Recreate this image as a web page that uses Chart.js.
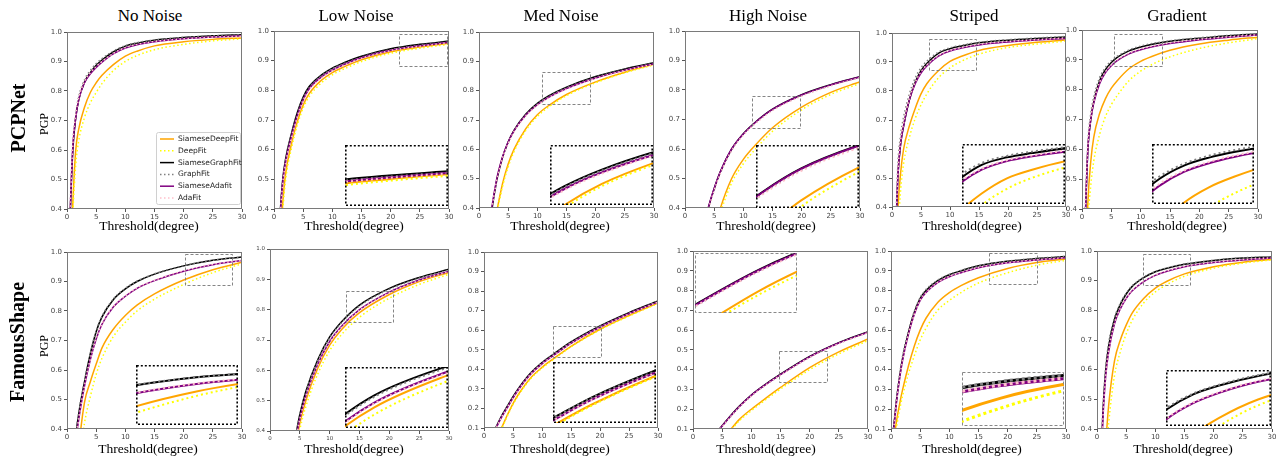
<!DOCTYPE html>
<html><head><meta charset="utf-8">
<script src="https://cdn.jsdelivr.net/npm/chart.js@4.4.0/dist/chart.umd.min.js"></script>
<style>
body{margin:0;width:1283px;height:461px;background:#fff;position:relative;overflow:hidden;font-family:'Liberation Serif','Times New Roman',serif}
canvas{position:absolute}
.t{position:absolute;white-space:nowrap;color:#000;transform:translate(-50%,-50%);line-height:1}
.r{position:absolute;white-space:nowrap;color:#000;transform:translate(-50%,-50%) rotate(-90deg);line-height:1}
</style></head><body>
<script>
// ---------------- DATA ----------------
const thresholds = [0, 0.5, 1, 1.5, 2, 3, 4, 5, 6, 8, 10, 12, 15, 20, 25, 30];
const methods = ['SiameseDeepFit', 'DeepFit', 'SiameseGraphFit', 'GraphFit', 'SiameseAdafit', 'AdaFit'];
const colTitles = ['No Noise', 'Low Noise', 'Med Noise', 'High Noise', 'Striped', 'Gradient'];
const rowTitles = ['PCPNet', 'FamousShape'];
const xTickValues = [0, 5, 10, 15, 20, 25, 30];
const yTicksFrom04 = [0.4, 0.5, 0.6, 0.7, 0.8, 0.9, 1.0];
const yTicksFrom01 = [0.1, 0.2, 0.3, 0.4, 0.5, 0.6, 0.7, 0.8, 0.9, 1.0];
const xAxisTitle = 'Threshold(degree)';
const yAxisTitle = 'PGP';

// PCPNet row
const pcp_noNoise = {
  SiameseDeepFit:  [0, 0.15, 0.42, 0.60, 0.67, 0.745, 0.795, 0.828, 0.853, 0.89, 0.918, 0.935, 0.953, 0.967, 0.975, 0.98],
  DeepFit:         [0, 0.10, 0.38, 0.55, 0.63, 0.71, 0.76, 0.795, 0.825, 0.87, 0.90, 0.92, 0.94, 0.958, 0.97, 0.977],
  SiameseGraphFit: [0, 0.35, 0.60, 0.71, 0.77, 0.83, 0.862, 0.887, 0.905, 0.933, 0.952, 0.962, 0.972, 0.981, 0.987, 0.991],
  GraphFit:        [0, 0.37, 0.62, 0.72, 0.78, 0.838, 0.87, 0.893, 0.91, 0.936, 0.954, 0.964, 0.973, 0.982, 0.987, 0.99],
  SiameseAdafit:   [0, 0.36, 0.61, 0.71, 0.77, 0.828, 0.858, 0.88, 0.898, 0.927, 0.946, 0.957, 0.967, 0.977, 0.983, 0.987],
  AdaFit:          [0, 0.37, 0.62, 0.72, 0.775, 0.832, 0.862, 0.883, 0.90, 0.928, 0.947, 0.958, 0.968, 0.977, 0.983, 0.986]
};
const pcp_lowNoise = {
  SiameseDeepFit:  [0, 0.02, 0.25, 0.42, 0.52, 0.62, 0.695, 0.75, 0.788, 0.832, 0.86, 0.879, 0.903, 0.93, 0.946, 0.959],
  DeepFit:         [0, 0.01, 0.22, 0.39, 0.50, 0.605, 0.683, 0.74, 0.778, 0.823, 0.852, 0.872, 0.897, 0.925, 0.942, 0.955],
  SiameseGraphFit: [0, 0.05, 0.36, 0.50, 0.57, 0.655, 0.725, 0.777, 0.812, 0.85, 0.875, 0.893, 0.915, 0.94, 0.955, 0.966],
  GraphFit:        [0, 0.05, 0.355, 0.495, 0.565, 0.65, 0.72, 0.772, 0.808, 0.847, 0.872, 0.89, 0.912, 0.937, 0.952, 0.963],
  SiameseAdafit:   [0, 0.04, 0.35, 0.49, 0.56, 0.645, 0.715, 0.768, 0.804, 0.843, 0.868, 0.887, 0.91, 0.935, 0.95, 0.962],
  AdaFit:          [0, 0.04, 0.345, 0.485, 0.555, 0.64, 0.71, 0.765, 0.80, 0.84, 0.866, 0.885, 0.908, 0.934, 0.949, 0.961]
};
const pcp_medNoise = {
  SiameseDeepFit:  [0, 0, 0.03, 0.13, 0.23, 0.38, 0.48, 0.55, 0.60, 0.67, 0.718, 0.75, 0.787, 0.83, 0.863, 0.89],
  DeepFit:         [0, 0, 0.02, 0.12, 0.22, 0.37, 0.47, 0.54, 0.592, 0.664, 0.712, 0.745, 0.783, 0.827, 0.861, 0.888],
  SiameseGraphFit: [0, 0, 0.10, 0.25, 0.36, 0.49, 0.57, 0.625, 0.665, 0.72, 0.757, 0.783, 0.812, 0.848, 0.874, 0.895],
  GraphFit:        [0, 0, 0.10, 0.25, 0.36, 0.488, 0.568, 0.622, 0.662, 0.718, 0.755, 0.781, 0.81, 0.846, 0.872, 0.894],
  SiameseAdafit:   [0, 0, 0.11, 0.26, 0.37, 0.495, 0.572, 0.625, 0.663, 0.716, 0.752, 0.778, 0.807, 0.843, 0.87, 0.892],
  AdaFit:          [0, 0, 0.10, 0.255, 0.365, 0.49, 0.568, 0.62, 0.66, 0.713, 0.75, 0.776, 0.805, 0.842, 0.869, 0.891]
};
const pcp_highNoise = {
  SiameseDeepFit:  [0, 0.02, 0.05, 0.08, 0.11, 0.18, 0.25, 0.32, 0.395, 0.50, 0.565, 0.612, 0.672, 0.742, 0.792, 0.828],
  DeepFit:         [0, 0.02, 0.04, 0.07, 0.10, 0.17, 0.24, 0.31, 0.38, 0.485, 0.55, 0.598, 0.66, 0.733, 0.785, 0.822],
  SiameseGraphFit: [0, 0.04, 0.10, 0.16, 0.22, 0.32, 0.40, 0.465, 0.52, 0.60, 0.652, 0.69, 0.735, 0.784, 0.818, 0.845],
  GraphFit:        [0, 0.04, 0.10, 0.16, 0.22, 0.318, 0.398, 0.462, 0.517, 0.597, 0.649, 0.687, 0.732, 0.781, 0.815, 0.843],
  SiameseAdafit:   [0, 0.04, 0.10, 0.16, 0.22, 0.322, 0.402, 0.466, 0.52, 0.60, 0.651, 0.689, 0.734, 0.783, 0.817, 0.844],
  AdaFit:          [0, 0.04, 0.10, 0.16, 0.22, 0.315, 0.395, 0.46, 0.515, 0.595, 0.647, 0.685, 0.73, 0.779, 0.814, 0.842]
};
const pcp_striped = {
  SiameseDeepFit:  [0, 0.05, 0.38, 0.52, 0.60, 0.68, 0.74, 0.79, 0.825, 0.87, 0.902, 0.92, 0.94, 0.957, 0.968, 0.976],
  DeepFit:         [0, 0.03, 0.30, 0.46, 0.55, 0.64, 0.705, 0.752, 0.79, 0.845, 0.88, 0.903, 0.927, 0.95, 0.962, 0.972],
  SiameseGraphFit: [0, 0.20, 0.50, 0.62, 0.68, 0.77, 0.83, 0.87, 0.895, 0.93, 0.946, 0.955, 0.966, 0.975, 0.981, 0.986],
  GraphFit:        [0, 0.24, 0.54, 0.65, 0.71, 0.79, 0.845, 0.88, 0.903, 0.934, 0.949, 0.958, 0.968, 0.977, 0.983, 0.988],
  SiameseAdafit:   [0, 0.20, 0.50, 0.62, 0.68, 0.77, 0.825, 0.862, 0.886, 0.92, 0.938, 0.948, 0.959, 0.969, 0.976, 0.981],
  AdaFit:          [0, 0.21, 0.51, 0.63, 0.69, 0.775, 0.83, 0.866, 0.89, 0.922, 0.94, 0.95, 0.961, 0.971, 0.977, 0.983]
};
const pcp_gradient = {
  SiameseDeepFit:  [0, 0.10, 0.42, 0.56, 0.64, 0.72, 0.77, 0.805, 0.83, 0.87, 0.895, 0.912, 0.932, 0.953, 0.966, 0.976],
  DeepFit:         [0, 0.05, 0.35, 0.48, 0.56, 0.65, 0.71, 0.75, 0.78, 0.83, 0.862, 0.885, 0.91, 0.938, 0.957, 0.971],
  SiameseGraphFit: [0, 0.33, 0.60, 0.70, 0.76, 0.83, 0.867, 0.891, 0.908, 0.93, 0.943, 0.952, 0.962, 0.972, 0.981, 0.987],
  GraphFit:        [0, 0.36, 0.62, 0.72, 0.775, 0.84, 0.875, 0.897, 0.912, 0.933, 0.946, 0.955, 0.964, 0.974, 0.982, 0.987],
  SiameseAdafit:   [0, 0.33, 0.60, 0.70, 0.755, 0.82, 0.857, 0.88, 0.897, 0.92, 0.934, 0.944, 0.955, 0.967, 0.976, 0.983],
  AdaFit:          [0, 0.34, 0.61, 0.705, 0.76, 0.825, 0.86, 0.883, 0.90, 0.922, 0.936, 0.946, 0.957, 0.969, 0.977, 0.984]
};
// FamousShape row
const fam_noNoise = {
  SiameseDeepFit:  [0, 0.02, 0.08, 0.20, 0.33, 0.49, 0.56, 0.62, 0.675, 0.74, 0.785, 0.82, 0.858, 0.905, 0.94, 0.965],
  DeepFit:         [0, 0.01, 0.06, 0.15, 0.27, 0.42, 0.51, 0.585, 0.64, 0.715, 0.762, 0.80, 0.84, 0.89, 0.93, 0.96],
  SiameseGraphFit: [0, 0.06, 0.20, 0.37, 0.45, 0.56, 0.655, 0.73, 0.78, 0.84, 0.875, 0.90, 0.925, 0.953, 0.972, 0.983],
  GraphFit:        [0, 0.06, 0.20, 0.37, 0.452, 0.562, 0.657, 0.732, 0.782, 0.842, 0.877, 0.901, 0.926, 0.954, 0.972, 0.983],
  SiameseAdafit:   [0, 0.05, 0.18, 0.35, 0.43, 0.545, 0.635, 0.705, 0.755, 0.815, 0.85, 0.877, 0.903, 0.935, 0.957, 0.971],
  AdaFit:          [0, 0.05, 0.18, 0.35, 0.43, 0.546, 0.636, 0.706, 0.756, 0.816, 0.851, 0.878, 0.904, 0.936, 0.958, 0.972]
};
const fam_lowNoise = {
  SiameseDeepFit:  [0, 0, 0.01, 0.04, 0.10, 0.22, 0.32, 0.425, 0.50, 0.607, 0.683, 0.735, 0.79, 0.85, 0.893, 0.923],
  DeepFit:         [0, 0, 0.01, 0.03, 0.08, 0.20, 0.30, 0.405, 0.48, 0.588, 0.665, 0.718, 0.775, 0.838, 0.883, 0.917],
  SiameseGraphFit: [0, 0, 0.02, 0.06, 0.12, 0.24, 0.35, 0.455, 0.53, 0.635, 0.71, 0.76, 0.815, 0.87, 0.906, 0.933],
  GraphFit:        [0, 0, 0.02, 0.06, 0.12, 0.24, 0.35, 0.453, 0.528, 0.632, 0.707, 0.757, 0.812, 0.867, 0.904, 0.931],
  SiameseAdafit:   [0, 0, 0.02, 0.05, 0.11, 0.23, 0.335, 0.44, 0.515, 0.62, 0.695, 0.745, 0.80, 0.858, 0.898, 0.927],
  AdaFit:          [0, 0, 0.02, 0.05, 0.11, 0.23, 0.333, 0.437, 0.512, 0.617, 0.692, 0.742, 0.798, 0.856, 0.896, 0.926]
};
const fam_medNoise = {
  SiameseDeepFit:  [0, 0.01, 0.02, 0.04, 0.06, 0.10, 0.165, 0.225, 0.275, 0.355, 0.41, 0.455, 0.518, 0.605, 0.675, 0.74],
  DeepFit:         [0, 0.01, 0.02, 0.035, 0.055, 0.095, 0.16, 0.22, 0.27, 0.35, 0.406, 0.451, 0.515, 0.602, 0.672, 0.737],
  SiameseGraphFit: [0, 0.02, 0.04, 0.07, 0.10, 0.16, 0.21, 0.26, 0.305, 0.38, 0.435, 0.478, 0.54, 0.622, 0.69, 0.75],
  GraphFit:        [0, 0.02, 0.04, 0.07, 0.10, 0.159, 0.209, 0.259, 0.304, 0.379, 0.434, 0.477, 0.539, 0.62, 0.688, 0.748],
  SiameseAdafit:   [0, 0.02, 0.04, 0.065, 0.095, 0.153, 0.203, 0.253, 0.298, 0.373, 0.428, 0.471, 0.533, 0.615, 0.684, 0.745],
  AdaFit:          [0, 0.02, 0.04, 0.065, 0.094, 0.152, 0.202, 0.252, 0.297, 0.372, 0.427, 0.47, 0.532, 0.614, 0.683, 0.744]
};
const fam_highNoise = {
  SiameseDeepFit:  [0, 0, 0, 0, 0, 0, 0.01, 0.04, 0.08, 0.15, 0.20, 0.245, 0.31, 0.41, 0.49, 0.555],
  DeepFit:         [0, 0, 0, 0, 0, 0, 0.005, 0.035, 0.075, 0.143, 0.193, 0.238, 0.302, 0.40, 0.48, 0.547],
  SiameseGraphFit: [0, 0, 0, 0, 0.01, 0.04, 0.08, 0.117, 0.152, 0.217, 0.272, 0.317, 0.377, 0.467, 0.537, 0.592],
  GraphFit:        [0, 0, 0, 0, 0.01, 0.04, 0.08, 0.113, 0.148, 0.213, 0.268, 0.313, 0.373, 0.463, 0.533, 0.588],
  SiameseAdafit:   [0, 0, 0, 0, 0.01, 0.04, 0.08, 0.115, 0.15, 0.215, 0.27, 0.315, 0.375, 0.465, 0.535, 0.59],
  AdaFit:          [0, 0, 0, 0, 0.01, 0.04, 0.08, 0.112, 0.147, 0.212, 0.267, 0.312, 0.372, 0.462, 0.532, 0.587]
};
const fam_striped = {
  SiameseDeepFit:  [0, 0.05, 0.15, 0.23, 0.30, 0.42, 0.52, 0.60, 0.66, 0.74, 0.79, 0.825, 0.865, 0.912, 0.942, 0.96],
  DeepFit:         [0, 0.03, 0.12, 0.20, 0.27, 0.38, 0.47, 0.55, 0.61, 0.70, 0.75, 0.79, 0.838, 0.89, 0.928, 0.953],
  SiameseGraphFit: [0, 0.12, 0.26, 0.37, 0.46, 0.59, 0.69, 0.76, 0.80, 0.85, 0.88, 0.90, 0.925, 0.948, 0.962, 0.972],
  GraphFit:        [0, 0.13, 0.27, 0.38, 0.47, 0.60, 0.695, 0.765, 0.805, 0.853, 0.882, 0.902, 0.926, 0.949, 0.963, 0.973],
  SiameseAdafit:   [0, 0.11, 0.25, 0.36, 0.45, 0.58, 0.68, 0.75, 0.79, 0.84, 0.87, 0.89, 0.915, 0.94, 0.955, 0.966],
  AdaFit:          [0, 0.11, 0.25, 0.36, 0.45, 0.58, 0.68, 0.75, 0.79, 0.841, 0.871, 0.891, 0.916, 0.941, 0.956, 0.967]
};
const fam_gradient = {
  SiameseDeepFit:  [0, 0.05, 0.20, 0.35, 0.48, 0.63, 0.70, 0.75, 0.79, 0.84, 0.875, 0.898, 0.923, 0.947, 0.962, 0.972],
  DeepFit:         [0, 0.03, 0.15, 0.30, 0.42, 0.58, 0.66, 0.72, 0.765, 0.825, 0.862, 0.887, 0.915, 0.942, 0.959, 0.97],
  SiameseGraphFit: [0, 0.20, 0.45, 0.60, 0.68, 0.77, 0.82, 0.855, 0.88, 0.91, 0.93, 0.942, 0.955, 0.968, 0.976, 0.98],
  GraphFit:        [0, 0.21, 0.46, 0.61, 0.69, 0.775, 0.824, 0.858, 0.882, 0.912, 0.931, 0.943, 0.956, 0.969, 0.977, 0.981],
  SiameseAdafit:   [0, 0.18, 0.43, 0.58, 0.66, 0.755, 0.805, 0.84, 0.865, 0.897, 0.918, 0.932, 0.947, 0.961, 0.97, 0.976],
  AdaFit:          [0, 0.18, 0.43, 0.58, 0.66, 0.756, 0.806, 0.841, 0.866, 0.898, 0.919, 0.933, 0.948, 0.962, 0.971, 0.977]
};

// ---------------- STYLE / LAYOUT ----------------
const SERIES_STYLE = {
  SiameseDeepFit:  {color: '#FFA500', dash: []},
  DeepFit:         {color: '#FFFF00', dash: [1.5, 2.5]},
  SiameseGraphFit: {color: '#000000', dash: []},
  GraphFit:        {color: '#808080', dash: [1.5, 2.5]},
  SiameseAdafit:   {color: '#800080', dash: []},
  AdaFit:          {color: '#FFC0CB', dash: [1.5, 2.5]}
};
const panels = [
  {data: pcp_noNoise,  yt: yTicksFrom04, L: 67,  T: 32,  R: 242,  B: 209, legend: true},
  {data: pcp_lowNoise, yt: yTicksFrom04, L: 274, T: 31,  R: 449,  B: 209,
    rect: [21.5, 29.7, 0.883, 0.991], box: [12.1, 29.7, 0.412, 0.616], win: [21.5, 29.7, 0.88, 1.03], boxStyle: 'dot'},
  {data: pcp_medNoise, yt: yTicksFrom04, L: 479, T: 32,  R: 654,  B: 208,
    rect: [10.84, 19.1, 0.756, 0.864], box: [12.1, 29.7, 0.41, 0.616], win: [10.84, 19.1, 0.75, 0.855], boxStyle: 'dot'},
  {data: pcp_highNoise, yt: yTicksFrom04, L: 685, T: 31, R: 860,  B: 208,
    rect: [11.4, 19.6, 0.669, 0.778], box: [12.2, 29.9, 0.40, 0.614], win: [11.4, 19.6, 0.657, 0.781], boxStyle: 'dot'},
  {data: pcp_striped, yt: yTicksFrom04, L: 892, T: 33, R: 1066, B: 207,
    rect: [6.44, 14.6, 0.872, 0.979], box: [12.07, 29.8, 0.411, 0.618], win: [6.44, 14.6, 0.848, 0.974], boxStyle: 'dot'},
  {data: pcp_gradient, yt: yTicksFrom04, L: 1082, T: 30, R: 1258, B: 209,
    rect: [5.45, 13.6, 0.881, 0.987], box: [11.9, 29.3, 0.415, 0.617], win: [5.45, 13.6, 0.868, 0.965], boxStyle: 'dot'},
  {data: fam_noNoise, yt: yTicksFrom04, L: 67, T: 252, R: 242, B: 429,
    rect: [20.2, 28.3, 0.89, 0.994], box: [11.84, 29.4, 0.412, 0.617], win: [20.2, 28.3, 0.864, 1.0], boxStyle: 'dot'},
  {data: fam_lowNoise, yt: yTicksFrom04, L: 270, T: 249, R: 449, B: 431, small: true,
    rect: [12.74, 20.67, 0.759, 0.862], box: [12.5, 29.8, 0.411, 0.612], win: [12.74, 20.67, 0.747, 0.874], boxStyle: 'dot'},
  {data: fam_medNoise, yt: yTicksFrom01, L: 484, T: 252, R: 658, B: 428,
    rect: [11.9, 20.1, 0.467, 0.623], box: [11.9, 29.6, 0.122, 0.435], win: [11.9, 20.1, 0.461, 0.649], boxStyle: 'dot'},
  {data: fam_highNoise, yt: yTicksFrom01, L: 693, T: 251, R: 868, B: 429,
    rect: [14.7, 23.0, 0.334, 0.493], box: [0.4, 17.9, 0.684, 0.988], win: [14.7, 23.0, 0.349, 0.51], boxStyle: 'dash'},
  {data: fam_striped, yt: yTicksFrom01, L: 891, T: 251, R: 1066, B: 429,
    rect: [16.87, 25.07, 0.831, 0.988], box: [12.25, 29.8, 0.111, 0.386], win: [16.87, 25.07, 0.85, 0.97], boxStyle: 'dash', thick: true},
  {data: fam_gradient, yt: yTicksFrom04, L: 1097, T: 251, R: 1272, B: 429,
    rect: [7.9, 16.0, 0.885, 0.99], box: [11.8, 29.8, 0.41, 0.60], win: [7.9, 16.0, 0.887, 0.963], boxStyle: 'dot'}
];
const titleX = [150, 356, 561, 768, 974, 1177];
const xlabX = [[149, 354, 560, 766, 972, 1177], [148, 354, 560, 766, 972, 1183]];
const xlabY = [226, 449];

// ---------------- PLUGINS ----------------
const framePlugin = {
  id: 'frame',
  beforeDraw(chart, args, o) {
    if (o.bg) { const c = chart.ctx; c.save(); c.fillStyle = '#fff'; c.fillRect(0, 0, chart.width, chart.height); c.restore(); }
  },
  afterDatasetsDraw(chart, args, o) {
    const c = chart.ctx, a = chart.chartArea;
    c.save();
    if (o.rect) {
      const xs = chart.scales.x, ys = chart.scales.y;
      const x0 = xs.getPixelForValue(o.rect[0]), x1 = xs.getPixelForValue(o.rect[1]);
      const y0 = ys.getPixelForValue(o.rect[3]), y1 = ys.getPixelForValue(o.rect[2]);
      c.strokeStyle = '#777'; c.lineWidth = 0.9; c.setLineDash([3, 2]);
      c.strokeRect(Math.round(x0) + 0.5, Math.round(y0) + 0.5, Math.round(x1 - x0), Math.round(y1 - y0));
    }
    c.strokeStyle = o.color; c.lineWidth = o.width; c.setLineDash(o.dash || []);
    const h = o.width / 2;
    c.strokeRect(a.left + h, a.top + h, a.right - a.left - o.width, a.bottom - a.top - o.width);
    c.restore();
  },
  afterDraw(chart, args, o) {
    if (!o.legend) return;
    const c = chart.ctx, a = chart.chartArea;
    const w = 84, h = 72, x = a.right - w - 2, y = a.bottom - h - 5;
    c.save();
    c.fillStyle = 'rgba(255,255,255,0.85)';
    c.strokeStyle = '#d0d0d0'; c.lineWidth = 1;
    c.beginPath(); c.roundRect(x + 0.5, y + 0.5, w, h, 2); c.fill(); c.stroke();
    c.font = '7.5px "DejaVu Sans"'; c.textBaseline = 'middle'; c.fillStyle = '#222';
    chart.data.datasets.forEach((ds, i) => {
      const cy = y + 7 + i * 11.8;
      c.strokeStyle = ds.borderColor; c.lineWidth = 1.5; c.setLineDash(ds.borderDash);
      c.beginPath(); c.moveTo(x + 4, cy); c.lineTo(x + 18, cy); c.stroke();
      c.fillText(ds.label, x + 22, cy);
    });
    c.restore();
  }
};

function makeDatasets(pd, lw) {
  return methods.map((m, i) => ({
    label: m,
    data: thresholds.map((t, k) => ({x: t, y: pd[m][k]})),
    borderColor: SERIES_STYLE[m].color,
    borderDash: SERIES_STYLE[m].dash,
    borderWidth: lw,
    pointRadius: 0,
    fill: false,
    cubicInterpolationMode: 'monotone',
    order: methods.length - i
  }));
}

function addText(txt, x, y, css, cls) {
  const d = document.createElement('div');
  d.className = cls || 't'; d.textContent = txt;
  d.style.left = x + 'px'; d.style.top = y + 'px';
  d.style.cssText += css;
  document.body.appendChild(d);
}

const PADL = 30, PADT = 6, PADR = 8, PADB = 14;
panels.forEach((p, idx) => {
  const row = Math.floor(idx / 6), col = idx % 6;
  const cv = document.createElement('canvas');
  const W = p.R - p.L + PADL + PADR, H = p.B - p.T + PADT + PADB;
  cv.width = W; cv.height = H;
  cv.style.left = (p.L - PADL) + 'px'; cv.style.top = (p.T - PADT) + 'px';
  cv.style.width = W + 'px'; cv.style.height = H + 'px';
  document.body.appendChild(cv);
  const fsz = p.small ? 5.5 : 7;
  const tickFont = {family: 'DejaVu Sans', size: fsz};
  const ymin = p.yt[0], ymax = p.yt[p.yt.length - 1];
  const chart = new Chart(cv, {
    type: 'line',
    data: {datasets: makeDatasets(p.data, 1.5)},
    options: {
      responsive: false, animation: false, devicePixelRatio: 1,
      layout: {padding: {left: 0, top: PADT, right: PADR, bottom: 0}},
      elements: {line: {capBezierPoints: false, tension: 0.4}},
      plugins: {legend: {display: false}, tooltip: {enabled: false},
        frame: {color: '#7a7a7a', width: 1, rect: p.rect, legend: !!p.legend}},
      scales: {
        x: {type: 'linear', min: 0, max: 30,
          afterBuildTicks: s => { s.ticks = xTickValues.map(v => ({value: v})); },
          afterFit: s => { s.height = PADB; s.paddingLeft = 0; s.paddingRight = 0; s.paddingTop = 0; s.paddingBottom = 0; },
          ticks: {font: tickFont, color: '#444', padding: 1, maxRotation: 0, autoSkip: false, callback: v => String(v)},
          grid: {display: true, drawOnChartArea: false, drawTicks: true, tickLength: 3, color: '#555'},
          border: {display: false}},
        y: {type: 'linear', min: ymin, max: ymax,
          afterBuildTicks: s => { s.ticks = p.yt.map(v => ({value: v})); },
          afterFit: s => { s.width = PADL; s.paddingLeft = 0; s.paddingRight = 0; s.paddingTop = 0; s.paddingBottom = 0; },
          ticks: {font: tickFont, color: '#444', padding: 2, autoSkip: false, callback: v => Number(v).toFixed(1)},
          grid: {display: true, drawOnChartArea: false, drawTicks: true, tickLength: 3, color: '#555'},
          border: {display: false}}
      }
    },
    plugins: [framePlugin]
  });

  if (p.box) {
    const xs = chart.scales.x, ys = chart.scales.y;
    const bx0 = p.L - PADL + xs.getPixelForValue(p.box[0]);
    const bx1 = p.L - PADL + xs.getPixelForValue(p.box[1]);
    const by0 = p.T - PADT + ys.getPixelForValue(p.box[3]);
    const by1 = p.T - PADT + ys.getPixelForValue(p.box[2]);
    const iw = Math.round(bx1 - bx0), ih = Math.round(by1 - by0);
    const ic = document.createElement('canvas');
    ic.width = iw; ic.height = ih;
    ic.style.left = Math.round(bx0) + 'px'; ic.style.top = Math.round(by0) + 'px';
    ic.style.width = iw + 'px'; ic.style.height = ih + 'px';
    document.body.appendChild(ic);
    const dot = p.boxStyle === 'dot';
    const ids = makeDatasets(p.data, p.thick ? 3 : 2).map(d => Object.assign(d, {clip: 0, borderDash: d.borderDash.length ? (p.thick ? [3, 3] : [2, 3]) : []}));
    new Chart(ic, {
      type: 'line',
      data: {datasets: ids},
      options: {
        responsive: false, animation: false, devicePixelRatio: 1,
        layout: {padding: 0},
        elements: {line: {capBezierPoints: false}},
        plugins: {legend: {display: false}, tooltip: {enabled: false},
          frame: {bg: true, color: dot ? '#000' : '#888', width: dot ? 1.6 : 1, dash: dot ? [2, 2] : [3, 2]}},
        scales: {
          x: {type: 'linear', display: false, min: p.win[0], max: p.win[1]},
          y: {type: 'linear', display: false, min: p.win[2], max: p.win[3]}
        }
      },
      plugins: [framePlugin]
    });
  }

  if (row === 0) addText(colTitles[col], titleX[col], 15, 'font-size:17px;');
  addText(xAxisTitle, xlabX[row][col], xlabY[row], 'font-size:13.5px;');
  if (col === 0) addText(yAxisTitle, 44, row === 0 ? 124 : 346, 'font-size:12px;', 'r');
});
addText(rowTitles[0], 18, 118, 'font-size:20px;font-weight:bold;', 'r');
addText(rowTitles[1], 17, 342, 'font-size:20px;font-weight:bold;', 'r');
</script>
</body></html>
